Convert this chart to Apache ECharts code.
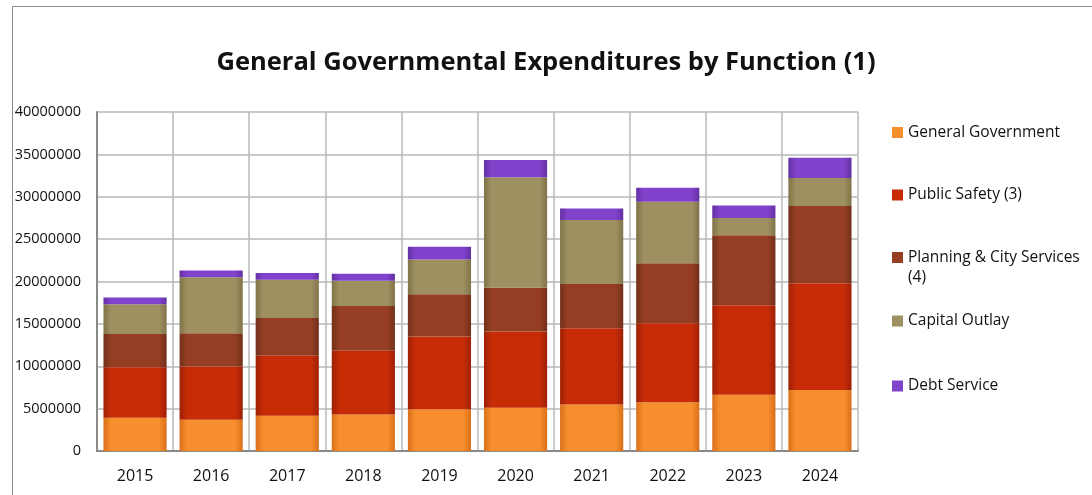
<!DOCTYPE html>
<html>
<head>
<meta charset="utf-8">
<script src="https://cdn.jsdelivr.net/npm/echarts@6/dist/echarts.min.js"></script>
<style>
  html, body { margin: 0; padding: 0; background: #fff; }
  #chart { width: 1092px; height: 495px; }
</style>
</head>
<body>
<div id="chart"></div>
<script>
var years = ['2015', '2016', '2017', '2018', '2019', '2020', '2021', '2022', '2023', '2024'];
var seriesNames = ['General Government', 'Public Safety (3)', 'Planning & City Services (4)', 'Capital Outlay', 'Debt Service'];
var generalGov = [3920000, 3690000, 4160000, 4310000, 4940000, 5100000, 5490000, 5760000, 6630000, 7200000];
var publicSafety = [5960000, 6270000, 7090000, 7530000, 8560000, 9000000, 8980000, 9300000, 10570000, 12600000];
var planning = [3920000, 3940000, 4450000, 5260000, 5000000, 5200000, 5230000, 7100000, 8250000, 9100000];
var capitalOutlay = [3530000, 6600000, 4500000, 3000000, 4100000, 13000000, 7550000, 7240000, 2050000, 3300000];
var debtService = [770000, 800000, 800000, 800000, 1500000, 2050000, 1350000, 1660000, 1480000, 2400000];

// [edge, body] colours for the shaded bars
var colors = [
    ['#d9701a', '#f78f2e'],
    ['#9e2005', '#c72c07'],
    ['#73301a', '#953e23'],
    ['#7f7449', '#9e9060'],
    ['#6330a3', '#8142cc']
];

function barColor(c) {
    return new echarts.graphic.LinearGradient(0, 0, 1, 0, [
        { offset: 0, color: c[0] },
        { offset: 0.12, color: c[1] },
        { offset: 0.88, color: c[1] },
        { offset: 1, color: c[0] }
    ]);
}

var myChart = echarts.init(document.getElementById('chart'));
var font = 'Open Sans';
var allData = [generalGov, publicSafety, planning, capitalOutlay, debtService];
var series = seriesNames.map(function (name, i) {
    return {
        name: name,
        type: 'bar',
        stack: 'total',
        barCategoryGap: '17%',
        data: allData[i],
        itemStyle: { color: barColor(colors[i]) }
    };
});

// one legend per item so each sits where the original puts it
var legendTops = [123.5, 186, 227.5, 312, 377];
var legends = seriesNames.map(function (name, i) {
    return {
        data: [{ name: name, itemStyle: { color: colors[i][1] } }],
        left: 892,
        top: legendTops[i],
        padding: 0,
        icon: 'rect',
        itemWidth: 11,
        itemHeight: 11,
        textStyle: { fontFamily: font, fontSize: 15.5, color: '#111', lineHeight: i === 2 ? 20 : 18 },
        formatter: function (n) {
            // blank first line keeps the marker level with the first text line
            return n === 'Planning & City Services (4)' ? '\nPlanning & City Services\n(4)' : n;
        }
    };
});

option = {
    animation: false,
    color: colors.map(function (c) { return c[1]; }),
    title: {
        text: 'General Governmental Expenditures by Function (1)',
        left: 'center',
        top: 45,
        textStyle: { fontFamily: font, fontWeight: 'bold', fontSize: 25.5, color: '#111' }
    },
    legend: legends,
    graphic: [{
        type: 'rect',
        shape: { x: 12.5, y: 6.5, width: 1090, height: 600 },
        style: { fill: 'none', stroke: '#8a8a8a', lineWidth: 1 },
        silent: true
    }],
    grid: {
        left: 97,
        right: 234,
        top: 112,
        bottom: 44
    },
    xAxis: [{
        type: 'category',
        data: years,
        axisLine: { lineStyle: { color: '#8a8a8a', width: 2 } },
        axisTick: { show: false },
        splitLine: { show: true, lineStyle: { color: '#b8b8b8', width: 1.5 } },
        axisLabel: { fontFamily: font, fontSize: 16, color: '#111', margin: 17 }
    }],
    yAxis: [{
        type: 'value',
        min: 0,
        max: 40000000,
        interval: 5000000,
        axisLine: { show: true, lineStyle: { color: '#8a8a8a', width: 2 } },
        axisTick: { show: false },
        splitLine: { lineStyle: { color: '#b8b8b8', width: 1.5 } },
        axisLabel: {
            fontFamily: font, fontSize: 14.5, color: '#111', margin: 16,
            formatter: function (v) { return String(v); }
        }
    }],
    series: series
};
myChart.setOption(option);
</script>
</body>
</html>
